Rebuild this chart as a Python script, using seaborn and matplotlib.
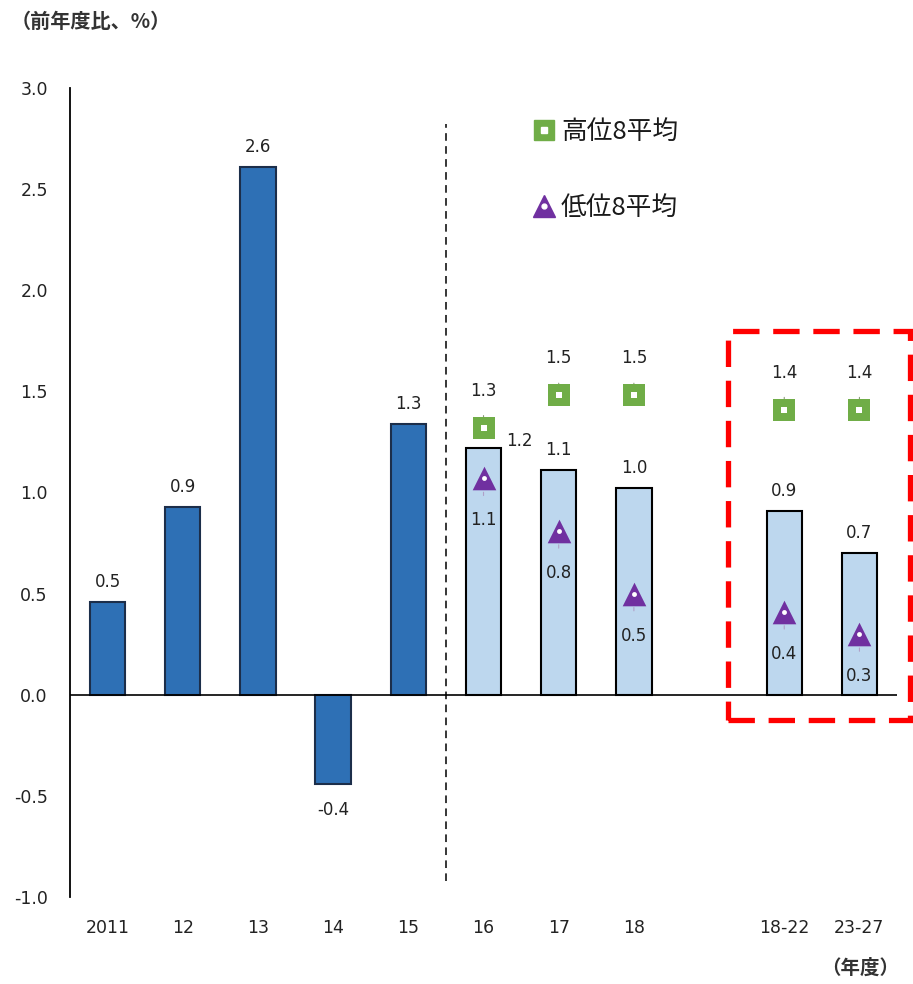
import numpy as np
import pandas as pd
import seaborn as sns
import matplotlib.pyplot as plt
from matplotlib.lines import Line2D
from matplotlib.patches import Rectangle
from matplotlib.legend_handler import HandlerTuple

# ---- data -------------------------------------------------------------
periods = ["2011", "12", "13", "14", "15", "16", "17", "18", " ", "18-22", "23-27"]
growth = [0.46, 0.93, 2.61, -0.44, 1.34, 1.22, 1.11, 1.02, np.nan, 0.91, 0.70]
kind = ["actual"] * 5 + ["outlook"] * 6

range_periods = ["16", "17", "18", "18-22", "23-27"]
top8_avg = [1.32, 1.48, 1.48, 1.41, 1.41]
bottom8_avg = [1.07, 0.81, 0.50, 0.41, 0.30]

top8_name = "高位8平均"
bottom8_name = "低位8平均"
y_unit = "（前年度比、%）"
x_unit = "（年度）"

# ---- style ------------------------------------------------------------
sns.set_theme(style="white")
plt.rcParams["font.family"] = ["Noto Sans CJK JP", "DejaVu Sans"]
narrow = ["Liberation Sans Narrow", "DejaVu Sans"]

DARK_BLUE = "#2E70B5"
DARK_EDGE = "#1C2E4A"
LIGHT_BLUE = "#BDD7EE"
GREEN = "#70AD47"
PURPLE = "#7030A0"

df = pd.DataFrame({"period": periods, "growth": growth, "kind": kind})
order = periods

fig = plt.figure(figsize=(9.13, 9.84), dpi=100)
ax = fig.add_axes([0.0767, 0.0884, 0.9058, 0.8222])

sns.barplot(data=df[df.kind == "actual"], x="period", y="growth", order=order,
            color=DARK_BLUE, saturation=1, edgecolor=DARK_EDGE, linewidth=1.5,
            width=0.47, ax=ax, zorder=2)
sns.barplot(data=df[df.kind == "outlook"], x="period", y="growth", order=order,
            color=LIGHT_BLUE, saturation=1, edgecolor="black", linewidth=1.5,
            width=0.47, ax=ax, zorder=2)

# markers for the high / low averages
sns.stripplot(x=range_periods, y=top8_avg, order=order, jitter=False,
              marker="s", size=16, color=GREEN, linewidth=0, ax=ax, zorder=5)
sns.stripplot(x=range_periods, y=top8_avg, order=order, jitter=False,
              marker="s", size=4.5, color="white", linewidth=0, ax=ax, zorder=6)
sns.stripplot(x=range_periods, y=bottom8_avg, order=order, jitter=False,
              marker="^", size=17, color=PURPLE, linewidth=0, ax=ax, zorder=5)
sns.stripplot(x=range_periods, y=bottom8_avg, order=order, jitter=False,
              marker="o", size=3.5, color="white", linewidth=0, ax=ax, zorder=6)

label_kw = dict(textcoords="offset pixels", ha="center", va="center",
                fontsize=12, color="#222222", family=["DejaVu Sans"])

# bar value labels
for i, v in enumerate(growth):
    if np.isnan(v):
        continue
    if periods[i] == "16":
        ax.annotate(f"{v:.1f}", (i, v), xytext=(36, 7), **label_kw)
    elif v >= 0:
        ax.annotate(f"{v:.1f}", (i, v), xytext=(0, 20), **label_kw)
    else:
        ax.annotate(f"{v:.1f}", (i, v), xytext=(0, -26), **label_kw)

# marker value labels with short leader lines
for p, hi, lo in zip(range_periods, top8_avg, bottom8_avg):
    i = order.index(p)
    ax.annotate(f"{hi:.1f}", (i, hi), xytext=(0, 37),
                arrowprops=dict(arrowstyle="-", color="#8A9A7A", lw=0.8,
                                shrinkA=9, shrinkB=10), **label_kw)
    ax.annotate(f"{lo:.1f}", (i, lo), xytext=(0, -42),
                arrowprops=dict(arrowstyle="-", color="#B0A0C8", lw=0.8,
                                shrinkA=9, shrinkB=10), **label_kw)

# zero line and divider between actuals and outlook
ax.axhline(0, color="black", lw=1.2, zorder=3)
ax.plot([4.5, 4.5], [-0.92, 2.82], color="black", lw=1.1,
        linestyle=(0, (5, 3.5)), zorder=1)

# highlight box around the medium-term outlook
box = Rectangle((8.25, -0.125), 2.42, 1.925, fill=False, edgecolor="#FF0000",
                lw=3.8, linestyle=(0, (5, 2.6)), clip_on=False, zorder=7)
ax.add_patch(box)

# axes
ax.set_xlim(-0.5, 10.5)
ax.set_ylim(-1.0, 3.0)
ax.set_yticks(np.arange(-1.0, 3.01, 0.5))
ax.set_yticklabels([f"{t:.1f}" for t in np.arange(-1.0, 3.01, 0.5)],
                   family=narrow, fontsize=12.5, color="#222222")
ax.set_xticks(range(len(order)))
ax.set_xticklabels([p.strip() for p in order], family=narrow, fontsize=12.5,
                   color="#222222")
ax.tick_params(axis="x", length=0, pad=16)
ax.tick_params(axis="y", length=0, pad=16)
ax.set_xlabel("")
ax.set_ylabel("")
for s in ["top", "right", "bottom"]:
    ax.spines[s].set_visible(False)
ax.spines["left"].set_color("black")
ax.spines["left"].set_linewidth(1.3)

# legend
h_top = (Line2D([], [], marker="s", ms=15, color=GREEN, ls=""),
         Line2D([], [], marker="s", ms=4.5, color="white", ls=""))
h_bot = (Line2D([], [], marker="^", ms=16, color=PURPLE, ls=""),
         Line2D([], [], marker="o", ms=3.5, color="white", ls=""))
ax.legend([h_top, h_bot], [top8_name, bottom8_name],
          handler_map={tuple: HandlerTuple(ndivide=1)},
          loc="upper left", bbox_to_anchor=(0.533, 0.99), frameon=False,
          fontsize=18.5, labelspacing=1.95, handlelength=0.8, handletextpad=0.25,
          labelcolor="#1a1a1a")

fig.text(0.012, 0.978, y_unit, fontsize=14.5, fontweight="bold",
         color="#333333", ha="left", va="center")
fig.text(0.985, 0.016, x_unit, fontsize=14, fontweight="bold",
         color="#333333", ha="right", va="center")

fig.savefig("out.png", dpi=100, facecolor="white")
